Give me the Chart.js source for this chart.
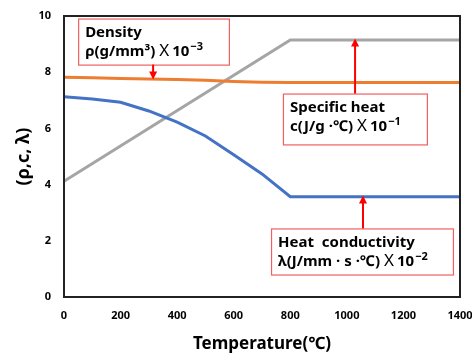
<!DOCTYPE html>
<html>
<head>
<meta charset="utf-8">
<script src="https://cdn.jsdelivr.net/npm/chart.js@4.4.0/dist/chart.umd.min.js"></script>
<style>
  html, body { margin: 0; padding: 0; background: #fff; }
  #wrap { width: 472px; height: 358px; }
</style>
</head>
<body>
<div id="wrap"><canvas id="grafico" width="472" height="358"></canvas></div>
<script>
// temperaturas (°C) e valores
var temps        = [0, 100, 200, 300, 400, 500, 600, 700, 800, 900, 1000, 1100, 1200, 1300, 1400];
var densidade    = [7.82, 7.80, 7.78, 7.76, 7.74, 7.71, 7.67, 7.64, 7.63, 7.63, 7.63, 7.63, 7.63, 7.63, 7.63];
var condutiv     = [7.13, 7.05, 6.93, 6.62, 6.22, 5.73, 5.06, 4.38, 3.57, 3.57, 3.57, 3.57, 3.57, 3.57, 3.57];
var calorTemps   = [0, 800, 1400];
var calorEspec   = [4.12, 9.15, 9.15];
var xTicks       = [0, 200, 400, 600, 800, 1000, 1200, 1400];
var yTicks       = [0, 2, 4, 6, 8, 10];

// caixas de legenda: [x1, x2, yTopo, yBase] em unidades dos eixos, seta: [x, yPonta]
var notas = [
  { linha1: 'Density', unid: 'ρ(g/mm³)', exp: '−3', box: [50, 583, 9.91, 8.27], seta: [315, 7.74] },
  { linha1: 'Specific heat', unid: 'c(J/g ·℃)', exp: '−1', box: [774, 1283, 7.24, 5.43], seta: [1029, 9.2] },
  { linha1: 'Heat  conductivity', unid: 'λ(J/mm · s ·℃)', exp: '−2', box: [732, 1375, 2.44, 0.80], seta: [1057, 3.61] }
];

function pares(xs, ys) {
  var out = [];
  for (var i in xs) out.push({ x: xs[i], y: ys[i] });
  return out;
}

var fonte = '"Noto Sans", "DejaVu Sans", sans-serif';

var molduraPlugin = {
  id: 'moldura',
  afterDatasetsDraw: function (chart) {
    var ctx = chart.ctx, a = chart.chartArea;
    var sx = chart.scales.x, sy = chart.scales.y;
    ctx.save();
    // borda do gráfico
    ctx.strokeStyle = '#222';
    ctx.lineWidth = 2;
    ctx.strokeRect(a.left, a.top, a.right - a.left, a.bottom - a.top);

    notas.forEach(function (n) {
      var x1 = sx.getPixelForValue(n.box[0]), x2 = sx.getPixelForValue(n.box[1]);
      var y1 = sy.getPixelForValue(n.box[2]), y2 = sy.getPixelForValue(n.box[3]);
      var ax = sx.getPixelForValue(n.seta[0]), ay = sy.getPixelForValue(n.seta[1]);
      ctx.fillStyle = '#fff';
      ctx.fillRect(x1, y1, x2 - x1, y2 - y1);
      ctx.strokeStyle = '#f06060';
      ctx.lineWidth = 1.2;
      ctx.strokeRect(x1 + 0.5, y1 + 0.5, x2 - x1, y2 - y1);

      // seta vermelha
      var base = ay > y2 ? y2 : y1;
      var dir = ay > base ? 1 : -1;
      ctx.strokeStyle = '#ff0000';
      ctx.fillStyle = '#ff0000';
      ctx.lineWidth = 2;
      ctx.beginPath();
      ctx.moveTo(ax, base);
      ctx.lineTo(ax, ay - dir * 6);
      ctx.stroke();
      ctx.beginPath();
      ctx.moveTo(ax, ay);
      ctx.lineTo(ax - 4, ay - dir * 8);
      ctx.lineTo(ax + 4, ay - dir * 8);
      ctx.closePath();
      ctx.fill();

      // textos
      ctx.fillStyle = '#000';
      ctx.textBaseline = 'middle';
      ctx.textAlign = 'left';
      var tx = x1 + 7;
      ctx.font = 'bold 15px ' + fonte;
      ctx.fillText(n.linha1, tx, y1 + 14);
      var ly = y1 + 33;
      ctx.fillText(n.unid, tx, ly);
      tx += ctx.measureText(n.unid).width + 4;
      ctx.font = '17px ' + fonte;
      ctx.fillText('X', tx, ly);
      tx += ctx.measureText('X').width + 3;
      ctx.font = 'bold 15px ' + fonte;
      ctx.fillText('10', tx, ly);
      tx += ctx.measureText('10').width + 1;
      ctx.font = 'bold 11px ' + fonte;
      ctx.fillText(n.exp, tx, ly - 5);
    });
    ctx.restore();
  }
};

var grafico = new Chart(document.getElementById('grafico'), {
  type: 'line',
  data: {
    datasets: [
      { label: 'Density', data: pares(temps, densidade), borderColor: '#ED7D31', borderWidth: 3, pointRadius: 0, tension: 0 },
      { label: 'Heat conductivity', data: pares(temps, condutiv), borderColor: '#4472C4', borderWidth: 3, pointRadius: 0, tension: 0 },
      { label: 'Specific heat', data: pares(calorTemps, calorEspec), borderColor: '#A5A5A5', borderWidth: 3, pointRadius: 0, tension: 0 }
    ]
  },
  options: {
    responsive: false,
    animation: false,
    layout: { padding: 0 },
    plugins: {
      legend: { display: false },
      tooltip: { enabled: false }
    },
    scales: {
      x: {
        type: 'linear',
        min: 0,
        max: 1400,
        afterBuildTicks: function (s) { s.ticks = xTicks.map(function (v) { return { value: v }; }); },
        afterFit: function (s) { s.height = 61; s.paddingRight = 12; s.paddingLeft = 0; },
        grid: { display: false, drawTicks: false },
        border: { display: false },
        ticks: { color: '#000', padding: 12, maxRotation: 0, callback: function (v) { return String(v); }, font: { family: fonte, size: 11, weight: 'bold' } },
        title: { display: true, text: 'Temperature(℃)', color: '#000', padding: { top: 5 }, font: { family: fonte, size: 17, weight: 'bold' } }
      },
      y: {
        min: 0,
        max: 10,
        afterBuildTicks: function (s) { s.ticks = yTicks.map(function (v) { return { value: v }; }); },
        afterFit: function (s) { s.width = 64; s.paddingTop = 16; s.paddingBottom = 0; },
        grid: { display: false, drawTicks: false },
        border: { display: false },
        ticks: { color: '#000', padding: 13, font: { family: fonte, size: 11, weight: 'bold' } },
        title: { display: true, text: '(ρ,c, λ)', color: '#000', padding: { top: 13 }, font: { family: fonte, size: 18, weight: 'bold' } }
      }
    }
  },
  plugins: [molduraPlugin]
});
</script>
</body>
</html>
